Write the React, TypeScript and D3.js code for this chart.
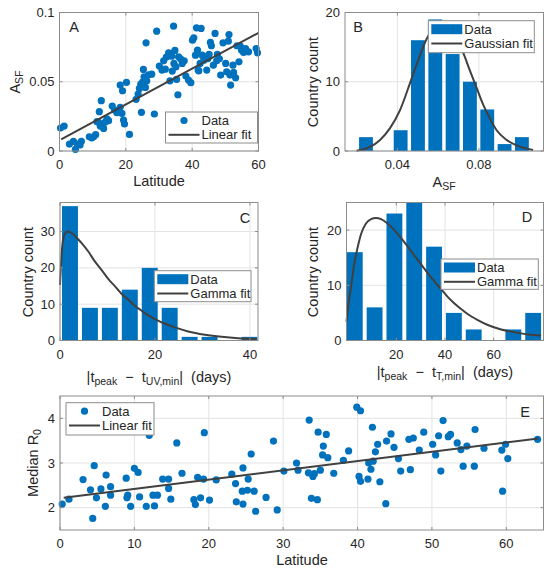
import React from 'react'
import * as d3 from 'd3'

type Pt = [number, number]
type Frame = { left: number; right: number; top: number; bottom: number }

const BLUE = '#0072bd'
const FIT = '#404040'
const AXIS = '#8c8c8c'
const GRID = '#e3e3e3'
const TEXT = '#262626'
const FONT = '"Liberation Sans", Arial, Helvetica, sans-serif'

// A: latitude vs A_SF
const latAsf: Pt[] = [
  [0.3, 0.0166], [1.4, 0.018], [3.0, 0.005], [4.2, 0.007], [4.8, 0.0012], [5.4, 0.005],
  [6.6, 0.007], [6.2, 0.0043], [9.0, 0.0103], [10.3, 0.0103], [10.9, 0.0118], [9.7, 0.0094],
  [12.0, 0.0284], [12.6, 0.0363], [11.3, 0.0212], [11.8, 0.0207], [12.3, 0.018], [13.3, 0.0163],
  [13.8, 0.0209], [14.3, 0.0233], [14.8, 0.0219], [15.9, 0.0325], [16.6, 0.0296], [17.3, 0.0276],
  [18.3, 0.0476], [19.0, 0.0435], [20.2, 0.0495], [18.3, 0.0315], [18.8, 0.0272], [19.3, 0.0224],
  [19.6, 0.0195], [21.1, 0.012], [23.1, 0.0373], [23.7, 0.0411], [24.1, 0.0452], [24.5, 0.0483],
  [24.7, 0.0279], [25.1, 0.05], [25.3, 0.0589], [25.5, 0.0536], [25.9, 0.0459], [26.1, 0.0781],
  [26.3, 0.0507], [26.9, 0.055], [27.8, 0.0555], [28.6, 0.0267], [29.3, 0.0865], [30.1, 0.0613],
  [30.9, 0.0584], [31.4, 0.0651], [31.9, 0.0591], [32.2, 0.0678], [32.9, 0.0709], [33.3, 0.0507],
  [33.6, 0.0704], [33.8, 0.0685], [34.0, 0.0577], [34.4, 0.0901], [34.5, 0.0632], [34.8, 0.0726],
  [35.1, 0.0608], [35.3, 0.0517], [35.7, 0.0406], [35.9, 0.068], [36.5, 0.0666], [37.0, 0.0632],
  [37.6, 0.0651], [38.1, 0.0541], [38.9, 0.0512], [39.6, 0.0493], [40.1, 0.08], [40.5, 0.0817],
  [41.0, 0.0692], [41.3, 0.0889], [41.6, 0.0728], [41.8, 0.0584], [42.0, 0.0579], [42.4, 0.0632],
  [42.7, 0.0885], [43.0, 0.0692], [43.5, 0.0656], [43.9, 0.068], [44.4, 0.0584], [44.7, 0.0666],
  [45.1, 0.0697], [45.5, 0.0784], [45.8, 0.076], [46.4, 0.062], [46.9, 0.0849], [47.4, 0.0651],
  [47.6, 0.0697], [48.2, 0.0666], [48.6, 0.0548], [49.3, 0.0781], [50.1, 0.0632], [50.4, 0.0572],
  [50.9, 0.0793], [51.1, 0.0841], [51.4, 0.0548], [51.6, 0.0476], [52.3, 0.062], [52.5, 0.0567],
  [53.1, 0.0529], [53.5, 0.076], [54.1, 0.0644], [54.5, 0.0757], [54.9, 0.0728], [55.5, 0.0712],
  [56.1, 0.074], [57.0, 0.0716], [59.3, 0.074], [59.7, 0.0709],
]
const asfLinearFit: Pt[] = [[0.5, 0.0084], [60, 0.0853]]

// B: histogram of A_SF
const asfBinCenters = [0.0246, 0.0331, 0.0416, 0.0501, 0.0586, 0.0671, 0.0756, 0.0841, 0.0926, 0.1011]
const asfBinCounts = [2, 0, 3, 16, 19, 14, 10, 6, 1, 2]
const asfBinWidth = 0.0085
const asfGaussFit: Pt[] = [
  [0.02, 0.05], [0.0266, 0.6], [0.0315, 1.6], [0.0364, 3.3], [0.0413, 5.9], [0.0462, 9.8],
  [0.0502, 13.1], [0.0544, 16.2], [0.0593, 18.2], [0.0625, 18.6], [0.0662, 18.0], [0.0723, 14.2],
  [0.0756, 11.6], [0.0789, 9.1], [0.0821, 6.7], [0.0854, 4.7], [0.0887, 3.0], [0.0936, 1.6],
  [0.0985, 0.8], [0.1066, 0.15],
]

// C: |t_peak - t_UV,min|
const uvBinCenters = [2.1, 6.3, 10.5, 14.7, 18.9, 23.1, 27.3, 31.5, 35.7, 39.9]
const uvBinCounts = [37, 9, 9, 14, 20, 9, 1, 1, 0, 1]
const uvBinWidth = 4.2
const uvGammaFit: Pt[] = [
  [0, 15.3], [0.35, 24.0], [0.7, 28.2], [1.19, 29.7], [1.75, 30.0], [2.32, 29.7], [3.16, 28.8],
  [4.56, 26.8], [5.96, 24.5], [7.37, 21.7], [8.77, 19.4], [10.2, 16.9], [11.6, 14.9], [13.0, 12.8],
  [14.4, 11.2], [15.8, 9.5], [17.2, 8.2], [18.6, 6.9], [20.0, 5.9], [22.1, 4.6], [24.2, 3.6],
  [27.0, 2.5], [30.5, 1.6], [34.0, 1.0], [37.5, 0.6], [41.4, 0.4],
]

// D: |t_peak - t_T,min|
const tBinCenters = [2.9, 11.05, 19.2, 27.35, 35.5, 43.65, 51.8, 59.95, 68.1, 76.25]
const tBinCounts = [16, 6, 23, 25, 17, 5, 2, 0, 2, 5]
const tBinWidth = 8.15
const tGammaFit: Pt[] = [
  [-0.5, 3.4], [0.0, 5.5], [1.36, 9.7], [2.7, 13.9], [4.1, 16.9], [5.5, 19.3], [7.5, 21.2],
  [9.6, 22.0], [11.6, 22.2], [13.7, 22.0], [16.4, 21.2], [19.2, 20.0], [21.9, 18.6], [24.7, 17.0],
  [27.4, 15.4], [30.2, 13.8], [32.9, 12.2], [35.6, 10.7], [38.4, 9.3], [41.1, 7.9], [43.9, 6.7],
  [46.6, 5.7], [49.3, 4.8], [53.5, 3.7], [57.6, 2.8], [63.1, 2.0], [68.6, 1.5], [74.0, 1.1],
  [79.5, 0.9],
]

// E: latitude vs median R0
const latR0: Pt[] = [
  [0.3, 2.08], [1.2, 2.19], [3.1, 2.63], [4.1, 2.4], [4.4, 1.76], [4.6, 2.94], [4.9, 2.22],
  [5.5, 2.42], [6.2, 2.73], [6.1, 2.03], [6.8, 2.47], [6.8, 2.28], [8.9, 2.66], [9.0, 2.22],
  [9.1, 2.28], [9.5, 2.03], [10.0, 2.88], [10.5, 2.79], [10.7, 2.24], [11.6, 2.03], [12.0, 3.62],
  [12.5, 2.28], [12.7, 2.04], [13.1, 2.28], [13.8, 2.64], [14.6, 2.64], [14.6, 2.43], [14.9, 2.19],
  [15.7, 3.45], [16.4, 2.77], [18.0, 2.18], [18.2, 2.07], [18.5, 2.68], [18.9, 2.22], [19.3, 2.64],
  [19.4, 3.68], [20.1, 2.17], [21.0, 2.62], [23.1, 2.75], [23.6, 2.54], [23.7, 2.13], [24.6, 2.89],
  [24.6, 2.08], [24.5, 2.37], [25.2, 2.39], [25.3, 2.64], [25.7, 3.2], [26.1, 2.37], [26.3, 1.92],
  [27.7, 2.23], [28.7, 3.49], [29.2, 1.95], [30.1, 2.82], [31.8, 3.0], [32.0, 2.84], [33.4, 2.78],
  [33.5, 3.96], [33.8, 2.21], [34.0, 2.7], [34.2, 2.76], [34.6, 2.18], [34.7, 3.69], [35.0, 2.84],
  [35.4, 3.38], [35.3, 3.18], [35.8, 3.64], [36.0, 3.12], [36.8, 2.77], [38.1, 3.06], [38.8, 3.27],
  [39.9, 4.25], [40.4, 4.17], [40.2, 2.7], [40.4, 2.59], [41.4, 2.64], [41.5, 3.0], [41.8, 2.86],
  [42.0, 3.8], [42.1, 3.04], [42.4, 3.25], [42.7, 3.42], [43.0, 2.58], [43.8, 2.09], [43.9, 3.49],
  [44.5, 3.65], [44.9, 3.35], [45.5, 3.1], [45.8, 2.82], [46.9, 3.53], [47.1, 2.85], [47.5, 3.56],
  [48.3, 3.29], [48.9, 3.69], [50.1, 3.42], [50.5, 3.18], [50.9, 3.61], [51.2, 2.82], [51.5, 3.95],
  [52.2, 3.59], [52.5, 3.64], [53.4, 3.45], [53.9, 3.3], [54.2, 2.93], [54.7, 3.38], [55.7, 2.93],
  [55.8, 3.75], [57.0, 3.33], [59.4, 3.29], [59.5, 2.37], [59.9, 3.42], [60.2, 3.1], [64.2, 3.53],
]
const r0LinearFit: Pt[] = [[0.5, 2.22], [64.3, 3.55]]

// tick values
const aXTicks = [0, 20, 40, 60]
const aYTicks = [0, 0.05, 0.1]
const bXTicks = [0.04, 0.08]
const bYTicks = [0, 10, 20]
const cXTicks = [0, 20, 40]
const cYTicks = [0, 10, 20, 30]
const dXTicks = [20, 40, 60]
const dYTicks = [0, 10, 20]
const eXTicks = [0, 10, 20, 30, 40, 50, 60]
const eYTicks = [2, 3, 4]

const frameA: Frame = { left: 59.5, right: 258.5, top: 12.5, bottom: 151 }
const frameB: Frame = { left: 345, right: 543.5, top: 12.5, bottom: 151 }
const frameC: Frame = { left: 60, right: 258, top: 202.5, bottom: 340.5 }
const frameD: Frame = { left: 346.5, right: 543.5, top: 202.5, bottom: 340.5 }
const frameE: Frame = { left: 60, right: 543.5, top: 396, bottom: 530 }

const scales = (f: Frame, xd: [number, number], yd: [number, number]) => ({
  x: d3.scaleLinear().domain(xd).range([f.left, f.right]),
  y: d3.scaleLinear().domain(yd).range([f.bottom, f.top]),
})

const sA = scales(frameA, [0, 60], [0, 0.1])
const sB = scales(frameB, [0.0143, 0.1117], [0, 20])
const sC = scales(frameC, [0, 41.7], [0, 38])
const sD = scales(frameD, [-0.5, 80.5], [0, 25])
const sE = scales(frameE, [0, 65], [1.5, 4.5])

type Sc = ReturnType<typeof scales>

function Axes({ f, s, xTicks, yTicks, children }: {
  f: Frame; s: Sc; xTicks: number[]; yTicks: number[]; children?: React.ReactNode
}) {
  const tl = 3
  return (
    <g>
      {xTicks.map(t => (
        <line key={'gx' + t} x1={s.x(t)} x2={s.x(t)} y1={f.top} y2={f.bottom} stroke={GRID} />
      ))}
      {yTicks.map(t => (
        <line key={'gy' + t} x1={f.left} x2={f.right} y1={s.y(t)} y2={s.y(t)} stroke={GRID} />
      ))}
      {children}
      <rect x={f.left} y={f.top} width={f.right - f.left} height={f.bottom - f.top}
        fill="none" stroke={AXIS} />
      {xTicks.map(t => (
        <g key={'tx' + t} stroke={AXIS}>
          <line x1={s.x(t)} x2={s.x(t)} y1={f.bottom} y2={f.bottom - tl} />
          <line x1={s.x(t)} x2={s.x(t)} y1={f.top} y2={f.top + tl} />
        </g>
      ))}
      {yTicks.map(t => (
        <g key={'ty' + t} stroke={AXIS}>
          <line x1={f.left} x2={f.left + tl} y1={s.y(t)} y2={s.y(t)} />
          <line x1={f.right} x2={f.right - tl} y1={s.y(t)} y2={s.y(t)} />
        </g>
      ))}
      <g fontSize={13} fill={TEXT}>
        {xTicks.map(t => (
          <text key={'lx' + t} x={s.x(t)} y={f.bottom + 18} textAnchor="middle">{String(t)}</text>
        ))}
        {yTicks.map(t => (
          <text key={'ly' + t} x={f.left - 5} y={s.y(t)} dy="0.35em" textAnchor="end">{String(t)}</text>
        ))}
      </g>
    </g>
  )
}

function Bars({ s, centers, counts, width }: { s: Sc; centers: number[]; counts: number[]; width: number }) {
  return (
    <g fill={BLUE}>
      {centers.map((c, i) => (
        counts[i] > 0 ? (
          <rect key={i} x={s.x(c - width * 0.4)} width={s.x(c + width * 0.4) - s.x(c - width * 0.4)}
            y={s.y(counts[i])} height={s.y(0) - s.y(counts[i])} />
        ) : null
      ))}
    </g>
  )
}

function FitLine({ s, pts, smooth }: { s: Sc; pts: Pt[]; smooth?: boolean }) {
  const line = d3.line<Pt>().x(d => s.x(d[0])).y(d => s.y(d[1]))
  if (smooth) line.curve(d3.curveMonotoneX)
  return <path d={line(pts) ?? ''} fill="none" stroke={FIT} strokeWidth={2} />
}

function Dots({ s, pts }: { s: Sc; pts: Pt[] }) {
  return (
    <g fill={BLUE}>
      {pts.map((p, i) => <circle key={i} cx={s.x(p[0])} cy={s.y(p[1])} r={3.6} />)}
    </g>
  )
}

type Item = { kind: 'dot' | 'patch' | 'line'; label: string }

function Legend({ x, y, w, h, items }: { x: number; y: number; w: number; h: number; items: Item[] }) {
  return (
    <g>
      <rect x={x} y={y} width={w} height={h} fill="#fff" stroke={AXIS} />
      {items.map((it, i) => {
        const cy = y + 8.5 + i * 14.3
        return (
          <g key={i}>
            {it.kind === 'dot' && <circle cx={x + 18.5} cy={cy} r={3.6} fill={BLUE} />}
            {it.kind === 'patch' && <rect x={x + 3} y={cy - 5} width={31} height={10} fill={BLUE} />}
            {it.kind === 'line' && <line x1={x + 3} x2={x + 34} y1={cy} y2={cy} stroke={FIT} strokeWidth={2} />}
            <text x={x + 36} y={cy} dy="0.35em" fontSize={13} fill={TEXT}>{it.label}</text>
          </g>
        )
      })}
    </g>
  )
}

const sub = { fontSize: 10.5 }

export default function App() {
  return (
    <svg width={550} height={571} style={{ position: 'absolute', left: 0, top: 0, background: '#fff' }}
      fontFamily={FONT}>
      {/* A */}
      <Axes f={frameA} s={sA} xTicks={aXTicks} yTicks={aYTicks}>
        <Dots s={sA} pts={latAsf} />
        <FitLine s={sA} pts={asfLinearFit} />
      </Axes>
      <Legend x={165.5} y={112} w={92} h={31}
        items={[{ kind: 'dot', label: 'Data' }, { kind: 'line', label: 'Linear fit' }]} />
      <text x={74} y={27} dy="0.35em" textAnchor="middle" fontSize={14.5} fill={TEXT}>A</text>
      <text x={159} y={186} textAnchor="middle" fontSize={14.5} fill={TEXT}>Latitude</text>
      <text transform="translate(20,82) rotate(-90)" textAnchor="middle" fontSize={14.5} fill={TEXT}>
        A<tspan {...sub} dy={3}>SF</tspan>
      </text>

      {/* B */}
      <Axes f={frameB} s={sB} xTicks={bXTicks} yTicks={bYTicks}>
        <Bars s={sB} centers={asfBinCenters} counts={asfBinCounts} width={asfBinWidth} />
        <FitLine s={sB} pts={asfGaussFit} smooth />
      </Axes>
      <Legend x={428.3} y={20.7} w={106} h={32}
        items={[{ kind: 'patch', label: 'Data' }, { kind: 'line', label: 'Gaussian fit' }]} />
      <text x={358} y={27} dy="0.35em" textAnchor="middle" fontSize={14.5} fill={TEXT}>B</text>
      <text x={444} y={187} textAnchor="middle" fontSize={14.5} fill={TEXT}>
        A<tspan {...sub} dy={3}>SF</tspan>
      </text>
      <text transform="translate(318,82) rotate(-90)" textAnchor="middle" fontSize={14.5} fill={TEXT}>
        Country count
      </text>

      {/* C */}
      <Axes f={frameC} s={sC} xTicks={cXTicks} yTicks={cYTicks}>
        <Bars s={sC} centers={uvBinCenters} counts={uvBinCounts} width={uvBinWidth} />
        <FitLine s={sC} pts={uvGammaFit} smooth />
      </Axes>
      <Legend x={154.3} y={270.7} w={96.7} h={31}
        items={[{ kind: 'patch', label: 'Data' }, { kind: 'line', label: 'Gamma fit' }]} />
      <text x={245} y={218} dy="0.35em" textAnchor="middle" fontSize={14.5} fill={TEXT}>C</text>
      <text x={159} y={382} textAnchor="middle" fontSize={14.5} fill={TEXT} style={{ whiteSpace: 'pre' }}>
        |t<tspan {...sub} dy={3}>peak</tspan><tspan dy={-3}>  −  t</tspan><tspan {...sub} dy={3}>UV,min</tspan><tspan dy={-3}>|  (days)</tspan>
      </text>
      <text transform="translate(33,272) rotate(-90)" textAnchor="middle" fontSize={14.5} fill={TEXT}>
        Country count
      </text>

      {/* D */}
      <Axes f={frameD} s={sD} xTicks={dXTicks} yTicks={dYTicks}>
        <Bars s={sD} centers={tBinCenters} counts={tBinCounts} width={tBinWidth} />
        <FitLine s={sD} pts={tGammaFit} smooth />
      </Axes>
      <Legend x={441} y={259} w={97.3} h={30.3}
        items={[{ kind: 'patch', label: 'Data' }, { kind: 'line', label: 'Gamma fit' }]} />
      <text x={527} y={217} dy="0.35em" textAnchor="middle" fontSize={14.5} fill={TEXT}>D</text>
      <text x={445} y={377} textAnchor="middle" fontSize={14.5} fill={TEXT} style={{ whiteSpace: 'pre' }}>
        |t<tspan {...sub} dy={3}>peak</tspan><tspan dy={-3}>  −  t</tspan><tspan {...sub} dy={3}>T,min</tspan><tspan dy={-3}>|  (days)</tspan>
      </text>
      <text transform="translate(318,272) rotate(-90)" textAnchor="middle" fontSize={14.5} fill={TEXT}>
        Country count
      </text>

      {/* E */}
      <Axes f={frameE} s={sE} xTicks={eXTicks} yTicks={eYTicks}>
        <Dots s={sE} pts={latR0} />
        <FitLine s={sE} pts={r0LinearFit} />
      </Axes>
      <Legend x={66} y={402.7} w={88} h={32.3}
        items={[{ kind: 'dot', label: 'Data' }, { kind: 'line', label: 'Linear fit' }]} />
      <text x={525} y={412} dy="0.35em" textAnchor="middle" fontSize={14.5} fill={TEXT}>E</text>
      <text x={302} y={565} textAnchor="middle" fontSize={14.5} fill={TEXT}>Latitude</text>
      <text transform="translate(38,463) rotate(-90)" textAnchor="middle" fontSize={14.5} fill={TEXT}>
        Median R<tspan {...sub} dy={3}>0</tspan>
      </text>
    </svg>
  )
}
